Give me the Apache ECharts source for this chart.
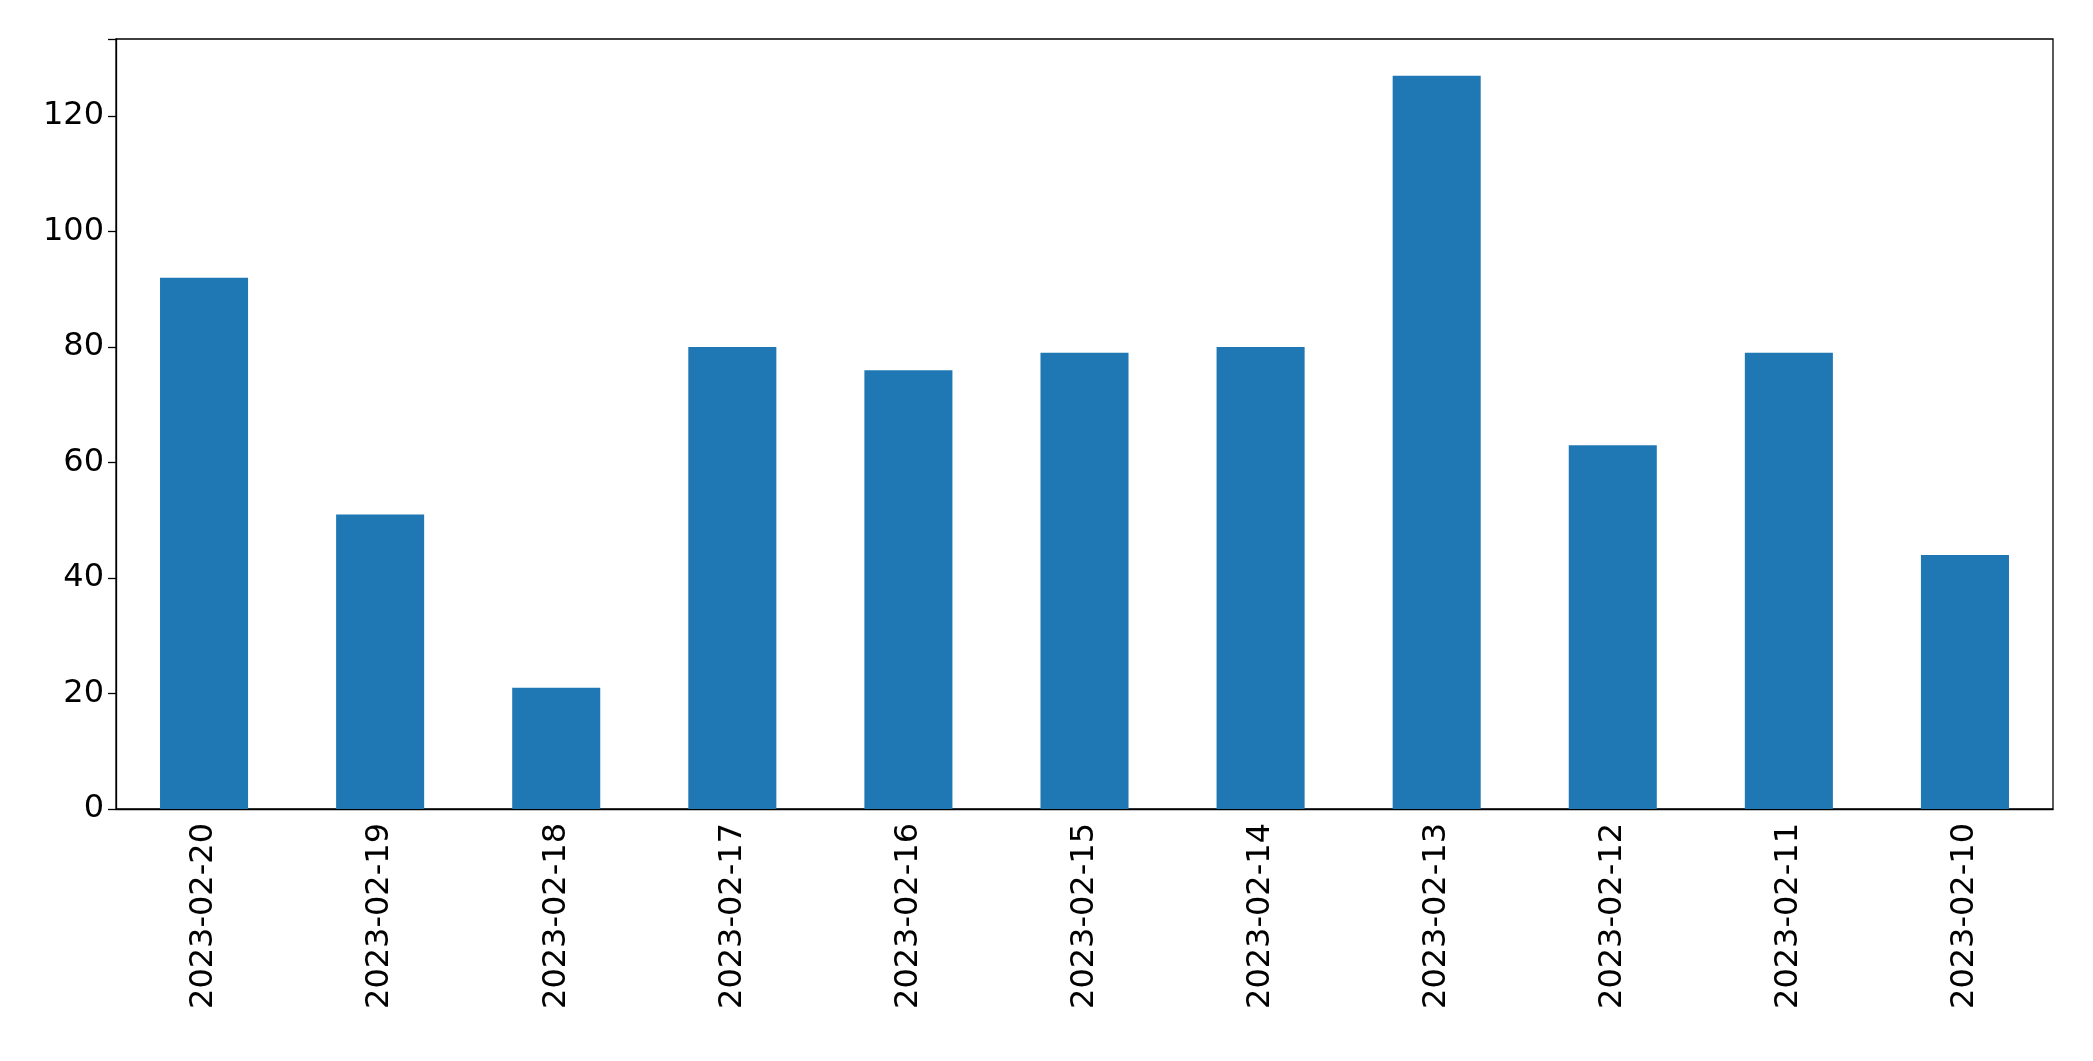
<!DOCTYPE html>
<html><head><meta charset="utf-8">
<script src="https://cdn.jsdelivr.net/npm/echarts@6/dist/echarts.min.js"></script>
<style>html,body{margin:0;padding:0;background:#fff}#c{width:2093px;height:1061px}</style>
</head><body><div id="c"></div>
<script>
const categories = ["2023-02-20","2023-02-19","2023-02-18","2023-02-17","2023-02-16","2023-02-15","2023-02-14","2023-02-13","2023-02-12","2023-02-11","2023-02-10"];
const values = [92, 51, 21, 80, 76, 79, 80, 127, 63, 79, 44];
const yTicks = [0, 20, 40, 60, 80, 100, 120];
const chart = echarts.init(document.getElementById('c'));
chart.setOption({
  animation: false,
  grid: {left: 116, top: 39, right: 40, bottom: 252, show: true, borderColor: '#000', borderWidth: 1.3},
  xAxis: {
    type: 'category', data: categories,
    axisLine: {lineStyle: {color: '#000', width: 1.3}},
    axisTick: {alignWithLabel: true, length: 8, lineStyle: {color: '#000', width: 1.3}},
    axisLabel: {rotate: 90, fontSize: 32, color: '#000', fontFamily: 'DejaVu Sans', margin: 14, interval: 0}
  },
  yAxis: {
    type: 'value', min: 0, max: 133.35, interval: 20,
    axisLine: {show: true, lineStyle: {color: '#000', width: 1.3}},
    axisTick: {show: true, length: 8, lineStyle: {color: '#000', width: 1.3}},
    splitLine: {show: false},
    axisLabel: {fontSize: 32, color: '#000', fontFamily: 'DejaVu Sans', margin: 12,
      formatter: v => yTicks.includes(v) ? String(v) : ''}
  },
  series: [{type: 'bar', data: values, barWidth: '50%', itemStyle: {color: '#1f77b4'}}]
});
</script></body></html>
